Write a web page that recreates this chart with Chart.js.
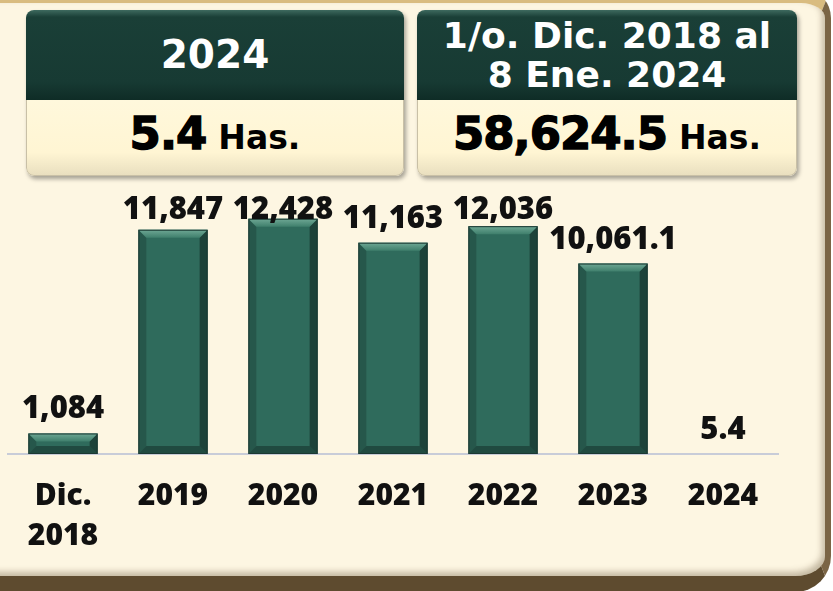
<!DOCTYPE html>
<html>
<head>
<meta charset="utf-8">
<script src="https://cdn.jsdelivr.net/npm/chart.js@4.4.1/dist/chart.umd.min.js"></script>
<style>
  html, body { margin: 0; padding: 0; background: #ffffff; }
  body { width: 833px; height: 591px; position: relative; overflow: hidden; }
  .panel {
    position: absolute; left: -30px; top: -12px; width: 861px; height: 604px;
    box-sizing: border-box; border-style: solid; border-width: 15px 6px 16px 0;
    border-color: #d9bc80 #7b6545 #5e4b2f #7b6545; border-radius: 0 30px 36px 0;
    background: #fdf6e2; box-shadow: inset -3px -4px 6px rgba(90,70,40,0.35);
  }
  .box {
    position: absolute; top: 10px; height: 166px; border-radius: 8px; overflow: hidden;
    box-shadow: 2px 3px 4px rgba(0,0,0,0.35);
    font-family: "DejaVu Sans", sans-serif; font-weight: bold;
  }
  .box .head {
    height: 90px; display: flex; align-items: center; justify-content: center; text-align: center;
    color: #ffffff;
    background: linear-gradient(#3e6a5f 0px, #1a3f37 7px, #173a33 80%, #0f2c26 100%);
  }
  .box .foot {
    height: 76px; display: flex; align-items: center; justify-content: center;
    color: #000; box-sizing: border-box; border: 1px solid #c9c0a6; border-top: none;
    border-radius: 0 0 8px 8px;
    background: linear-gradient(#fff8dc 0%, #fff5d3 70%, #e9dfbf 100%);
  }
  .big { font-size: 45px; letter-spacing: -1px; -webkit-text-stroke: 1.4px #000; }
  .unit { font-size: 33px; margin-left: 12px; }
  #chartWrap { position: absolute; left: 0; top: 180px; width: 833px; height: 400px; }
</style>
</head>
<body>
<div class="panel"></div>

<div class="box" style="left:26px; width:378px;">
  <div class="head"><span style="font-size:39px; padding-bottom:2px;">2024</span></div>
  <div class="foot"><span style="padding-bottom:8px;"><span class="big">5.4</span><span class="unit">Has.</span></span></div>
</div>

<div class="box" style="left:417px; width:380px;">
  <div class="head"><span style="font-size:36px; line-height:39px;">1/o. Dic. 2018 al<br>8 Ene. 2024</span></div>
  <div class="foot"><span style="padding-bottom:8px;"><span class="big">58,624.5</span><span class="unit">Has.</span></span></div>
</div>

<div id="chartWrap"><canvas id="chartHas" width="833" height="400"></canvas></div>

<script>
// datos
const categorias = [['Dic.', '2018'], '2019', '2020', '2021', '2022', '2023', '2024'];
const hectareas = [1084, 11847, 12428, 11163, 12036, 10061.1, 5.4];
const etiquetas = ['1,084', '11,847', '12,428', '11,163', '12,036', '10,061.1', '5.4'];

// etiquetas de valor + biselado de barras
const barrasPlugin = {
  id: 'barrasPlugin',
  afterDatasetsDraw(chart) {
    const ctx = chart.ctx;
    const meta = chart.getDatasetMeta(0);
    meta.data.forEach((bar, i) => {
      const left = bar.x - bar.width / 2;
      const right = bar.x + bar.width / 2;
      const top = bar.y;
      const base = bar.base;
      const h = base - top;
      if (h > 6) {
        const b = Math.min(8, h / 2);
        ctx.save();
        // lado izquierdo
        ctx.fillStyle = 'rgba(0,0,0,0.18)';
        ctx.beginPath();
        ctx.moveTo(left, top); ctx.lineTo(left + b, top + b);
        ctx.lineTo(left + b, base - b); ctx.lineTo(left, base); ctx.closePath(); ctx.fill();
        // lado derecho
        ctx.fillStyle = 'rgba(0,0,0,0.38)';
        ctx.beginPath();
        ctx.moveTo(right, top); ctx.lineTo(right - b, top + b);
        ctx.lineTo(right - b, base - b); ctx.lineTo(right, base); ctx.closePath(); ctx.fill();
        // abajo
        ctx.fillStyle = 'rgba(0,0,0,0.3)';
        ctx.beginPath();
        ctx.moveTo(left, base); ctx.lineTo(left + b, base - b);
        ctx.lineTo(right - b, base - b); ctx.lineTo(right, base); ctx.closePath(); ctx.fill();
        // arriba (brillo)
        const g = ctx.createLinearGradient(0, top, 0, top + b);
        g.addColorStop(0, '#6fa895');
        g.addColorStop(1, '#3f7f6c');
        ctx.fillStyle = g;
        ctx.beginPath();
        ctx.moveTo(left, top); ctx.lineTo(right, top);
        ctx.lineTo(right - b, top + b); ctx.lineTo(left + b, top + b); ctx.closePath(); ctx.fill();
        ctx.strokeStyle = '#1b3832';
        ctx.lineWidth = 1;
        ctx.strokeRect(left + 0.5, top + 0.5, bar.width - 1, h - 1);
        ctx.restore();
      }
      // texto
      ctx.save();
      ctx.fillStyle = '#111111';
      ctx.font = '800 31px "Open Sans"';
      ctx.textAlign = 'center';
      ctx.textBaseline = 'alphabetic';
      const y = Math.max(top - 15, chart.chartArea.top + 30);
      ctx.fillText(etiquetas[i], bar.x, y);
      ctx.restore();
    });
  }
};

const config = {
  type: 'bar',
  data: {
    labels: categorias,
    datasets: [{
      data: hectareas,
      backgroundColor: '#2f6b5c',
      borderWidth: 0,
      categoryPercentage: 0.63,
      barPercentage: 1
    }]
  },
  options: {
    responsive: false,
    animation: false,
    layout: { padding: { left: 8, right: 55, top: 9, bottom: 0 } },
    plugins: {
      legend: { display: false },
      tooltip: { enabled: false }
    },
    scales: {
      x: {
        grid: { display: false, drawTicks: false },
        border: { display: true, color: '#c8ccd8', width: 2 },
        ticks: {
          color: '#111111',
          font: { family: 'Open Sans', weight: 800, size: 30, lineHeight: '40px' },
          padding: 22,
          maxRotation: 0,
          autoSkip: false
        },
        afterFit: s => { s.height = 126; }
      },
      y: { display: false, min: 0, max: 14000 }
    }
  },
  plugins: [barrasPlugin]
};

new Chart(document.getElementById('chartHas'), config);
</script>
</body>
</html>
